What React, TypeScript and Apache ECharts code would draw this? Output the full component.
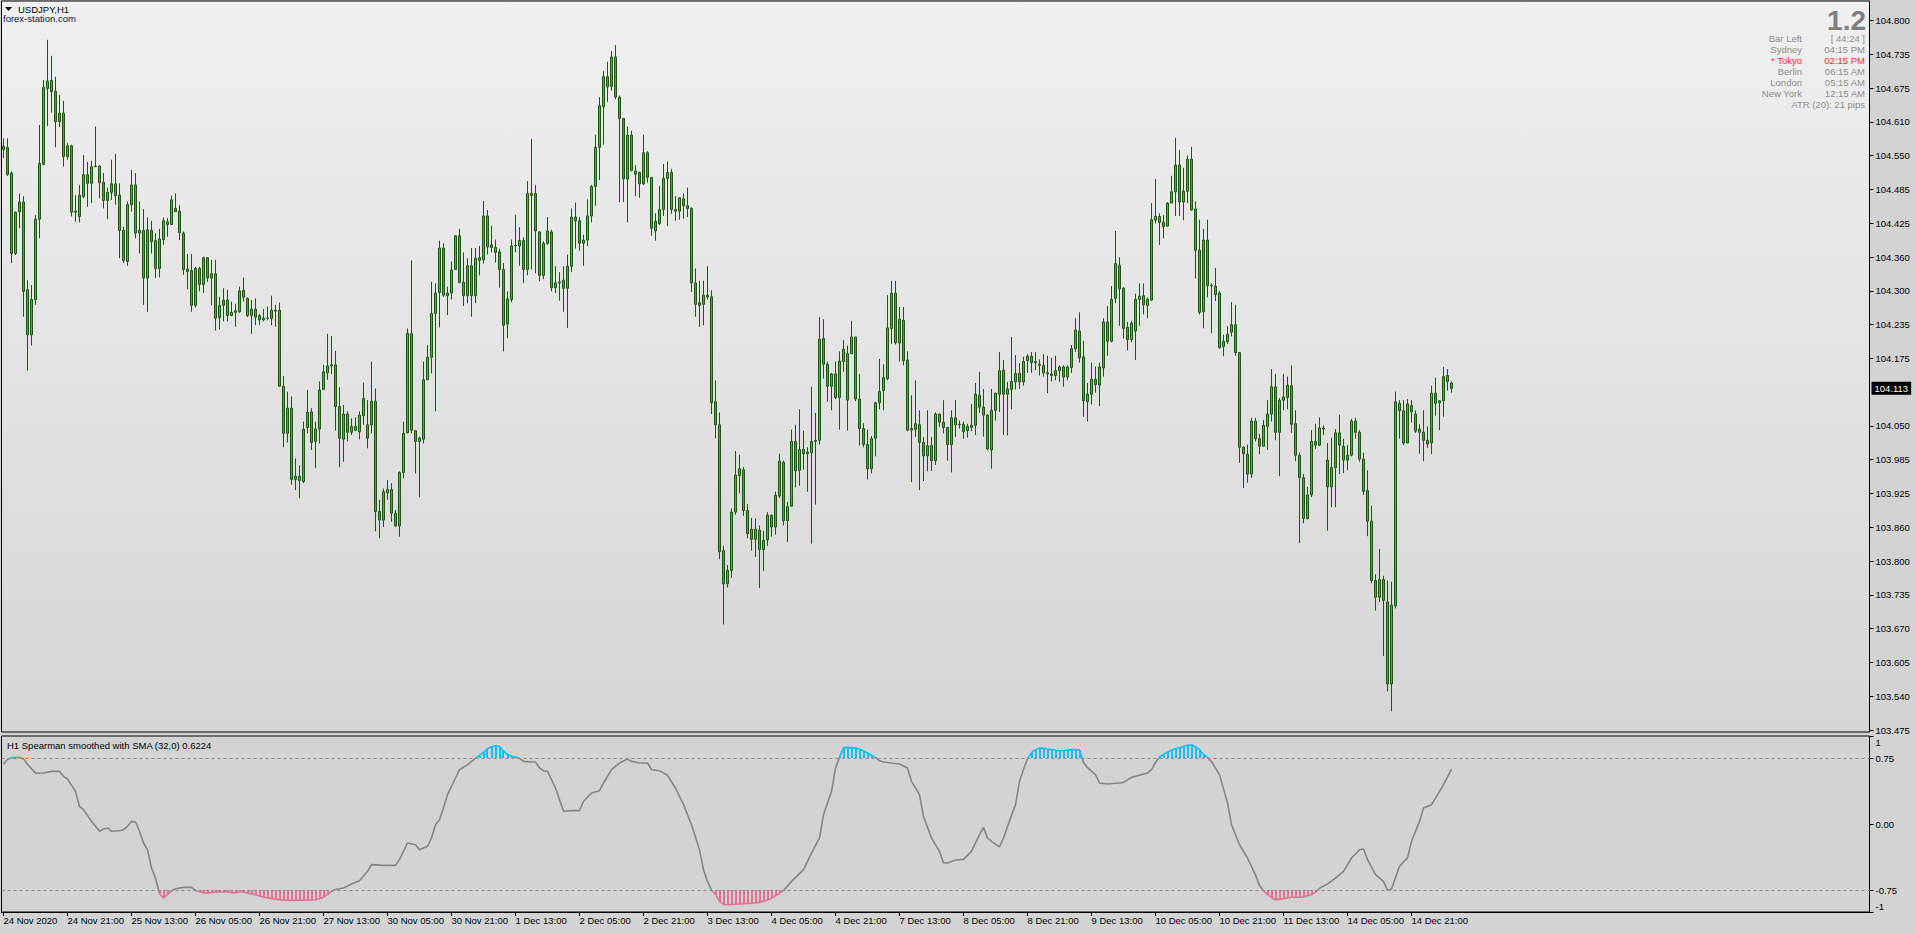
import React, { useEffect, useRef } from 'react';
import * as echarts from 'echarts';

// ---------- data (USDJPY H1) ----------
const opens = [
104.559,104.563,104.515,104.365,104.443,104.461,104.297,104.213,104.279,104.429,104.531,104.673,104.688,104.668,104.611,104.627,104.546,104.566,104.442,104.434,
104.471,104.512,104.496,104.527,104.528,104.498,104.464,104.479,104.495,104.474,104.408,104.350,104.456,104.493,104.403,104.408,104.319,104.408,104.389,104.337,
104.391,104.424,104.419,104.449,104.444,104.403,104.336,104.333,104.268,104.337,104.307,104.357,104.319,104.327,104.245,104.268,104.278,104.249,104.255,104.256,
104.296,104.281,104.249,104.261,104.249,104.241,104.244,104.243,104.259,104.259,104.117,104.029,104.076,103.943,103.949,103.939,104.040,104.069,104.014,104.037,
104.111,104.142,104.155,104.157,104.079,104.018,104.065,104.031,104.042,104.032,104.062,104.045,104.045,104.089,103.883,103.867,103.918,103.924,103.880,103.856,
103.956,104.030,104.215,104.034,104.014,104.018,104.129,104.171,104.253,104.292,104.375,104.286,104.291,104.335,104.398,104.311,104.286,104.342,104.286,104.352,
104.353,104.435,104.381,104.376,104.368,104.335,104.233,104.279,104.379,104.379,104.389,104.335,104.477,104.477,104.405,104.324,104.384,104.405,104.301,104.310,
104.315,104.300,104.341,104.433,104.426,104.384,104.390,104.435,104.490,104.563,104.639,104.695,104.677,104.732,104.657,104.617,104.504,104.586,104.519,104.516,
104.495,104.553,104.507,104.407,104.421,104.447,104.505,104.516,104.447,104.444,104.467,104.454,104.449,104.310,104.273,104.270,104.287,104.284,104.088,104.045,
103.810,103.748,103.773,103.882,103.950,103.961,103.885,103.850,103.831,103.848,103.812,103.830,103.876,103.854,103.912,103.975,103.866,103.893,104.014,103.960,
103.999,103.991,103.993,104.014,104.016,104.206,104.158,104.117,104.140,104.096,104.163,104.178,104.178,104.209,104.093,104.038,104.008,103.963,104.020,104.086,
104.109,104.131,104.225,104.291,104.198,104.240,104.166,104.035,104.036,104.045,104.012,103.987,104.006,103.978,104.065,104.050,104.040,104.008,104.058,104.045,
104.046,104.034,104.040,104.044,104.100,104.078,104.063,103.998,104.072,104.102,104.147,104.102,104.111,104.125,104.141,104.125,104.165,104.173,104.161,104.158,
104.156,104.142,104.140,104.137,104.146,104.153,104.134,104.152,104.187,104.220,104.172,104.088,104.102,104.130,104.119,104.151,104.237,104.201,104.281,104.343,
104.300,104.227,104.204,104.220,104.279,104.286,104.268,104.278,104.427,104.434,104.423,104.416,104.459,104.480,104.530,104.461,104.481,104.541,104.448,104.371,
104.256,104.390,104.305,104.304,104.291,104.191,104.200,104.218,104.232,104.180,104.003,103.990,103.953,104.052,104.019,104.005,104.042,104.065,104.116,104.031,
104.091,104.096,104.118,104.047,103.988,103.946,103.870,103.914,104.014,104.007,104.039,103.979,103.929,103.965,104.030,104.005,103.979,103.988,104.052,104.031,
103.981,103.922,103.865,103.754,103.723,103.756,103.714,103.561,103.707,104.085,104.071,104.011,104.081,104.065,104.037,104.031,104.016,104.011,104.104,104.086,
104.090,104.137,104.123,
];
const highs = [
104.580,104.580,104.518,104.443,104.477,104.472,104.315,104.306,104.437,104.605,104.689,104.764,104.734,104.695,104.661,104.650,104.571,104.568,104.474,104.493,
104.549,104.536,104.538,104.602,104.530,104.515,104.488,104.540,104.551,104.496,104.415,104.462,104.521,104.515,104.462,104.448,104.432,104.426,104.403,104.411,
104.432,104.431,104.473,104.477,104.455,104.406,104.364,104.364,104.340,104.340,104.359,104.358,104.353,104.353,104.284,104.300,104.297,104.275,104.271,104.303,
104.320,104.283,104.278,104.281,104.252,104.261,104.266,104.286,104.269,104.273,104.136,104.107,104.098,103.982,103.969,104.051,104.110,104.076,104.051,104.126,
104.157,104.215,104.211,104.183,104.115,104.082,104.070,104.057,104.059,104.070,104.124,104.091,104.163,104.113,103.905,103.926,103.942,103.936,103.886,103.958,
104.051,104.225,104.352,104.035,104.023,104.163,104.194,104.312,104.309,104.389,104.384,104.303,104.350,104.399,104.411,104.367,104.356,104.375,104.375,104.379,
104.463,104.446,104.417,104.391,104.374,104.347,104.294,104.391,104.437,104.414,104.395,104.500,104.579,104.493,104.407,104.388,104.433,104.409,104.341,104.330,
104.341,104.363,104.449,104.460,104.433,104.400,104.466,104.493,104.587,104.657,104.706,104.723,104.743,104.754,104.660,104.618,104.602,104.594,104.530,104.518,
104.587,104.556,104.507,104.440,104.491,104.532,104.537,104.523,104.472,104.469,104.477,104.488,104.451,104.337,104.314,104.314,104.341,104.296,104.128,104.068,
103.819,103.783,103.889,103.996,103.989,103.966,103.897,103.871,103.870,103.857,103.847,103.882,103.877,103.920,103.991,103.978,103.901,104.036,104.045,104.074,
104.034,104.003,104.116,104.067,104.246,104.242,104.163,104.142,104.163,104.182,104.203,104.193,104.239,104.209,104.140,104.048,104.036,104.024,104.088,104.168,
104.158,104.287,104.314,104.314,104.265,104.265,104.182,104.100,104.128,104.072,104.022,104.072,104.022,104.068,104.066,104.091,104.040,104.072,104.091,104.053,
104.051,104.047,104.084,104.123,104.144,104.112,104.065,104.112,104.105,104.181,104.166,104.125,104.209,104.175,104.160,104.172,104.177,104.181,104.181,104.167,
104.177,104.174,104.170,104.174,104.156,104.156,104.156,104.194,104.244,104.255,104.202,104.123,104.161,104.154,104.161,104.244,104.267,104.304,104.407,104.358,
104.302,104.237,104.239,104.290,104.309,104.309,104.283,104.459,104.504,104.440,104.437,104.461,104.510,104.581,104.558,104.525,104.548,104.564,104.462,104.428,
104.411,104.428,104.309,104.338,104.295,104.213,104.229,104.274,104.269,104.181,104.005,104.008,104.058,104.058,104.028,104.054,104.091,104.149,104.140,104.095,
104.140,104.135,104.156,104.072,103.993,103.953,103.929,104.035,104.047,104.059,104.044,104.011,104.021,104.037,104.064,104.019,104.007,104.056,104.058,104.035,
103.993,103.960,103.894,103.766,103.813,103.763,103.754,103.752,104.107,104.091,104.091,104.093,104.091,104.072,104.046,104.072,104.042,104.118,104.133,104.091,
104.153,104.149,104.126,
];
const lows = [
104.543,104.510,104.347,104.362,104.412,104.247,104.146,104.193,104.269,104.393,104.530,104.603,104.628,104.563,104.601,104.527,104.540,104.434,104.424,104.423,
104.468,104.452,104.459,104.526,104.468,104.449,104.429,104.465,104.456,104.356,104.347,104.342,104.443,104.393,104.365,104.269,104.256,104.365,104.319,104.320,
104.381,104.396,104.419,104.443,104.390,104.325,104.298,104.256,104.264,104.294,104.291,104.312,104.268,104.221,104.223,104.238,104.238,104.248,104.228,104.254,
104.275,104.246,104.215,104.231,104.231,104.238,104.240,104.231,104.228,104.116,104.003,104.012,103.933,103.923,103.908,103.936,104.029,103.998,103.964,104.010,
104.110,104.129,104.140,104.034,103.966,103.976,104.014,104.026,104.033,104.018,104.045,104.001,104.029,103.846,103.833,103.854,103.905,103.864,103.855,103.836,
103.945,104.029,104.029,103.954,103.910,104.010,104.129,104.141,104.070,104.227,104.284,104.250,104.279,104.334,104.309,104.267,104.272,104.247,104.272,104.324,
104.346,104.363,104.367,104.348,104.301,104.182,104.207,104.274,104.367,104.342,104.310,104.324,104.335,104.328,104.313,104.317,104.381,104.294,104.291,104.277,
104.256,104.226,104.330,104.374,104.370,104.342,104.379,104.423,104.454,104.502,104.568,104.648,104.669,104.653,104.461,104.461,104.423,104.518,104.472,104.469,
104.493,104.497,104.398,104.389,104.418,104.435,104.416,104.439,104.426,104.428,104.430,104.433,104.293,104.247,104.228,104.231,104.279,104.065,104.020,103.794,
103.672,103.741,103.759,103.877,103.917,103.875,103.833,103.810,103.798,103.740,103.772,103.819,103.836,103.840,103.908,103.857,103.826,103.892,103.928,103.931,
103.961,103.920,103.823,103.896,104.008,104.131,104.088,104.072,104.093,104.036,104.144,104.034,104.177,104.089,104.006,104.003,103.943,103.954,103.986,104.074,
104.072,104.128,104.196,104.195,104.163,104.156,104.033,103.938,104.022,103.923,103.940,103.958,103.959,103.970,104.041,104.029,103.978,103.956,104.022,104.038,
104.019,104.021,104.033,104.026,104.067,104.023,103.997,103.963,104.053,104.069,104.026,104.025,104.074,104.111,104.112,104.118,104.142,104.142,104.147,104.137,
104.135,104.104,104.126,104.128,104.125,104.116,104.128,104.142,104.181,104.161,104.060,104.051,104.083,104.105,104.080,104.135,104.174,104.199,104.272,104.230,
104.206,104.184,104.199,104.166,104.230,104.251,104.244,104.276,104.421,104.381,104.393,104.415,104.459,104.435,104.435,104.427,104.459,104.445,104.318,104.251,
104.225,104.283,104.216,104.276,104.187,104.173,104.196,104.210,104.174,103.974,103.927,103.937,103.946,104.014,103.990,104.005,103.998,104.051,104.016,103.949,
104.072,104.074,104.030,103.977,103.824,103.861,103.868,103.910,104.000,104.005,104.026,103.847,103.891,103.891,103.953,103.955,103.960,103.986,104.019,103.976,
103.914,103.837,103.749,103.698,103.714,103.613,103.547,103.510,103.702,104.019,104.007,104.011,104.049,104.030,103.991,103.977,104.002,103.990,104.062,104.035,
104.060,104.109,104.105,
];
const closes = [
104.565,104.512,104.365,104.442,104.461,104.294,104.213,104.279,104.429,104.533,104.675,104.687,104.667,104.611,104.627,104.546,104.566,104.442,104.444,104.474,
104.512,104.496,104.527,104.528,104.497,104.464,104.479,104.495,104.473,104.408,104.352,104.456,104.493,104.403,104.408,104.319,104.409,104.387,104.337,104.392,
104.426,104.419,104.465,104.443,104.404,104.335,104.331,104.268,104.337,104.307,104.357,104.319,104.327,104.244,104.268,104.278,104.249,104.255,104.258,104.295,
104.283,104.249,104.261,104.246,104.241,104.244,104.244,104.259,104.257,104.117,104.029,104.076,103.943,103.949,103.941,104.037,104.068,104.012,104.037,104.110,
104.144,104.155,104.157,104.079,104.020,104.065,104.031,104.042,104.035,104.063,104.094,104.020,104.089,103.883,103.867,103.920,103.924,103.880,103.856,103.956,
104.029,104.216,104.035,104.014,104.020,104.129,104.171,104.253,104.291,104.375,104.287,104.291,104.334,104.398,104.311,104.286,104.342,104.286,104.356,104.357,
104.435,104.377,104.376,104.367,104.335,104.231,104.280,104.379,104.380,104.389,104.335,104.477,104.473,104.407,104.324,104.384,104.407,104.301,104.310,104.312,
104.300,104.341,104.433,104.426,104.384,104.390,104.435,104.490,104.563,104.641,104.695,104.676,104.732,104.657,104.617,104.504,104.586,104.520,104.513,104.495,
104.553,104.507,104.412,104.425,104.447,104.505,104.516,104.447,104.444,104.469,104.454,104.449,104.310,104.270,104.268,104.287,104.284,104.086,104.045,103.808,
103.748,103.773,103.882,103.951,103.963,103.885,103.842,103.831,103.850,103.812,103.829,103.876,103.854,103.913,103.977,103.866,103.892,104.014,103.959,103.999,
103.991,103.994,104.014,104.016,104.205,104.158,104.117,104.140,104.096,104.164,104.186,104.091,104.209,104.093,104.038,104.008,103.963,104.019,104.086,104.107,
104.133,104.226,104.291,104.198,104.242,104.165,104.035,104.038,104.047,104.012,103.987,104.006,103.978,104.065,104.050,104.040,104.008,104.058,104.045,104.046,
104.032,104.042,104.044,104.102,104.078,104.063,104.000,104.072,104.104,104.146,104.102,104.112,104.126,104.141,104.125,104.163,104.173,104.161,104.163,104.156,
104.142,104.140,104.137,104.146,104.153,104.134,104.153,104.187,104.222,104.170,104.090,104.102,104.130,104.120,104.153,104.237,104.201,104.279,104.346,104.299,
104.225,104.204,104.235,104.279,104.285,104.269,104.279,104.428,104.434,104.423,104.415,104.459,104.480,104.530,104.461,104.481,104.541,104.446,104.371,104.255,
104.390,104.305,104.306,104.288,104.189,104.201,104.214,104.232,104.180,104.003,103.991,103.953,104.052,104.019,104.005,104.044,104.065,104.116,104.031,104.091,
104.097,104.119,104.046,103.988,103.946,103.870,103.914,104.014,104.007,104.039,104.037,103.929,103.965,104.030,104.007,103.979,103.988,104.052,104.031,103.981,
103.921,103.865,103.754,103.723,103.756,103.717,103.561,103.708,104.088,104.071,104.011,104.084,104.069,104.033,104.031,104.016,104.009,104.104,104.085,104.090,
104.135,104.126,104.113,
];

// Spearman indicator (bar index, value)
const spearmanIdx = [
0,1,2,3,4,5,6,8,10,12,14,15,16,18,19,20,22,24,25,26,27,29,30,31,32,33,34,35,36,37,38,39,40,41,42,43,45,47,
48,49,50,51,52,53,54,55,56,57,58,59,60,61,62,63,64,65,66,67,68,69,70,71,72,73,74,75,76,77,78,79,80,81,82,83,
85,87,89,91,92,95,98,99,100,101,103,104,106,107,108,109,110,111,113,114,116,117,118,
119,120,121,122,123,124,125,126,127,128,129,130,132,133,134,135,136,138,139,140,142,144,145,147,149,150,152,154,156,157,159,161,162,164,166,168,170,172,174,175,176,
177,178,179,180,181,182,183,184,185,186,187,188,189,190,191,192,193,194,195,197,200,202,204,205,207,208,
209,210,211,212,213,214,215,216,217,218,219,220,222,224,226,227,229,230,232,234,235,236,238,240,242,244,245,246,247,249,250,251,253,254,255,
256,257,258,259,260,261,262,263,264,265,266,267,268,269,270,271,273,274,276,279,280,282,283,286,287,
288,289,290,291,292,293,294,295,296,297,298,299,300,301,302,304,306,307,309,311,313,314,
315,316,317,318,319,320,321,322,323,324,325,326,327,328,329,331,333,335,337,339,340,341,343,345,346,347,349,351,352,354,355,357,358,360,362,
];
const spearmanVal = [
0.68,0.735,0.752,0.758,0.755,0.74,0.68,0.576,0.58,0.598,0.598,0.542,0.511,0.371,0.201,0.163,0.03,-0.083,-0.057,-0.045,-0.083,-0.076,-0.064,-0.027,0.03,0.023,-0.083,-0.216,-0.292,-0.5,-0.614,-0.79,-0.84,-0.8,-0.76,-0.735,-0.72,-0.72,
-0.755,-0.77,-0.78,-0.785,-0.78,-0.775,-0.773,-0.773,-0.773,-0.78,-0.783,-0.768,-0.775,-0.784,-0.795,-0.803,-0.818,-0.83,-0.84,-0.848,-0.855,-0.86,-0.865,-0.867,-0.868,-0.868,-0.867,-0.866,-0.865,-0.863,-0.86,-0.85,-0.833,-0.8,-0.765,-0.745,
-0.727,-0.682,-0.644,-0.538,-0.462,-0.47,-0.47,-0.405,-0.311,-0.216,-0.235,-0.292,-0.254,-0.159,-0.008,0.049,0.182,0.333,0.523,0.617,0.674,0.712,0.745,
0.78,0.815,0.855,0.877,0.89,0.88,0.83,0.79,0.77,0.76,0.745,0.712,0.705,0.705,0.636,0.606,0.598,0.409,0.277,0.144,0.152,0.152,0.258,0.352,0.379,0.466,0.617,0.693,0.739,0.712,0.693,0.693,0.617,0.606,0.553,0.409,0.22,-0.008,-0.292,-0.519,-0.652,
-0.752,-0.8,-0.88,-0.915,-0.917,-0.915,-0.912,-0.909,-0.906,-0.903,-0.9,-0.897,-0.888,-0.879,-0.863,-0.843,-0.815,-0.785,-0.757,-0.652,-0.519,-0.33,-0.159,0.106,0.371,0.636,
0.76,0.865,0.871,0.868,0.862,0.852,0.83,0.807,0.78,0.755,0.72,0.705,0.693,0.682,0.636,0.485,0.333,0.087,-0.159,-0.311,-0.443,-0.443,-0.409,-0.402,-0.311,-0.121,-0.038,-0.159,-0.197,-0.261,-0.159,-0.027,0.22,0.485,0.62,
0.74,0.81,0.845,0.862,0.86,0.852,0.845,0.838,0.833,0.836,0.84,0.845,0.845,0.84,0.7,0.64,0.56,0.466,0.455,0.466,0.473,0.53,0.542,0.58,0.617,
0.7,0.76,0.79,0.815,0.84,0.855,0.866,0.88,0.895,0.9,0.875,0.845,0.79,0.755,0.71,0.561,0.239,-0.008,-0.235,-0.386,-0.58,-0.7,
-0.76,-0.8,-0.835,-0.86,-0.857,-0.85,-0.84,-0.833,-0.833,-0.833,-0.828,-0.815,-0.805,-0.775,-0.73,-0.682,-0.614,-0.538,-0.386,-0.292,-0.284,-0.405,-0.576,-0.652,-0.752,-0.738,-0.481,-0.386,-0.197,0.03,0.182,0.22,0.295,0.447,0.6224,
];

const timeLabels = [
  '24 Nov 2020', '24 Nov 21:00', '25 Nov 13:00', '26 Nov 05:00', '26 Nov 21:00', '27 Nov 13:00',
  '30 Nov 05:00', '30 Nov 21:00', '1 Dec 13:00', '2 Dec 05:00', '2 Dec 21:00', '3 Dec 13:00',
  '4 Dec 05:00', '4 Dec 21:00', '7 Dec 13:00', '8 Dec 05:00', '8 Dec 21:00', '9 Dec 13:00',
  '10 Dec 05:00', '10 Dec 21:00', '11 Dec 13:00', '14 Dec 05:00', '14 Dec 21:00',
];
const BARS_PER_LABEL = 16;
const TOTAL_SLOTS = 467; // bars + right-side shift space

const priceTickLabels = [
  '103.475', '103.540', '103.605', '103.670', '103.735', '103.800', '103.860', '103.925', '103.985', '104.050',
  '104.175', '104.235', '104.300', '104.360', '104.425', '104.485', '104.550', '104.610', '104.675', '104.735', '104.800',
];
const PRICE_LOW = 103.475;
const PRICE_HIGH = 104.8;
const PRICE_STEPS = 21;

const spearmanTickValues = [1, 0.75, 0, -0.75, -1];
const spearmanTickLabels = ['1', '0.75', '0.00', '-0.75', '-1'];
const LEVEL = 0.75;

const infoNames = ['Bar Left', 'Sydney', '* Tokyo', 'Berlin', 'London', 'New York'];
const infoTimes = ['[ 44:24 ]', '04:15 PM', '02:15 PM', '06:15 AM', '05:15 AM', '12:15 AM'];
const infoHighlight = 2;

// ---------- styling ----------
const FONT = "'Liberation Sans', Arial, sans-serif";
const FS = 9.5;
const BULL_FILL = '#36bd36';
const BEAR_FILL = '#d0603c';
const CANDLE_EDGE = '#1f5512';
const BLUE = '#12bdf2';
const PINK = '#e2708f';
const GREY_LINE = '#858585';
const INFO_GREY = '#8d8d8d';

function buildOption() {
  const step = (PRICE_HIGH - PRICE_LOW) / PRICE_STEPS;
  const priceTickValues = priceTickLabels.map((l) => {
    const k = Math.round((parseFloat(l) - PRICE_LOW) / step);
    return PRICE_LOW + k * step;
  });
  const pxPerUnit = (730 - 20.5) / (PRICE_HIGH - PRICE_LOW);
  const yMax = PRICE_HIGH + (20.5 - 1) / pxPerUnit;
  const yMin = PRICE_LOW - (732 - 730) / pxPerUnit;

  const categories: string[] = [];
  for (let i = 0; i < TOTAL_SLOTS; i++) {
    const li = i / BARS_PER_LABEL;
    categories.push(i % BARS_PER_LABEL === 0 && li < timeLabels.length ? timeLabels[li] : '');
  }
  const labelInterval = (index: number) => index % BARS_PER_LABEL === 0 && index / BARS_PER_LABEL < timeLabels.length;

  const candles = opens.map((o, i) => [o, closes[i], lows[i], highs[i]]);
  const spearman = spearmanIdx.map((b, i) => [b, spearmanVal[i]]);
  const lastClose = closes[closes.length - 1];
  const lastCloseText = lastClose.toFixed(3);
  const lastSpearman = spearmanVal[spearmanVal.length - 1];

  const infoGraphics: any[] = [];
  infoNames.forEach((name, i) => {
    const y = 38.5 + i * 11;
    const col = i === infoHighlight ? '#ff2a2a' : INFO_GREY;
    infoGraphics.push({ type: 'text', x: 1802, y, z: 100, style: { text: name, fill: col, fontSize: FS, fontFamily: FONT, align: 'right', verticalAlign: 'middle' } });
    infoGraphics.push({ type: 'text', x: 1865, y, z: 100, style: { text: infoTimes[i], fill: col, fontSize: FS, fontFamily: FONT, align: 'right', verticalAlign: 'middle' } });
  });

  return {
    animation: false,
    backgroundColor: '#d3d3d3',
    textStyle: { fontFamily: FONT },
    grid: [
      {
        left: 1.5, top: 1, width: 1868, height: 731, show: true,
        backgroundColor: new echarts.graphic.LinearGradient(0, 0, 0, 1, [
          { offset: 0, color: '#f0f0f0' },
          { offset: 1, color: '#d6d6d6' },
        ]),
        borderColor: '#000', borderWidth: 1,
      },
      { left: 1.5, top: 736, width: 1868, height: 176, show: true, backgroundColor: '#d3d3d3', borderColor: '#000', borderWidth: 1 },
    ],
    xAxis: [
      {
        type: 'category', gridIndex: 0, data: categories, boundaryGap: true,
        axisLine: { show: false, onZero: false }, axisTick: { show: false }, axisLabel: { show: false }, splitLine: { show: false },
      },
      {
        type: 'category', gridIndex: 1, data: categories, boundaryGap: true, position: 'bottom',
        axisLine: { show: true, onZero: false, lineStyle: { color: '#000', width: 1 } },
        axisTick: { show: true, alignWithLabel: true, interval: labelInterval, length: 4, lineStyle: { color: '#000' } },
        axisLabel: { show: true, interval: labelInterval, align: 'left', margin: 3, color: '#000', fontSize: FS, fontFamily: FONT },
        splitLine: { show: false },
      },
    ],
    yAxis: [
      {
        type: 'value', gridIndex: 0, position: 'right', min: yMin, max: yMax,
        axisLine: { show: false }, splitLine: { show: false },
        axisTick: { show: true, customValues: priceTickValues, length: 4, lineStyle: { color: '#000' } },
        axisLabel: {
          show: true, customValues: priceTickValues, margin: 6, color: '#000', fontSize: FS, fontFamily: FONT,
          formatter: (v: number) => {
            let best = 0; let bd = Infinity;
            priceTickValues.forEach((pv, k) => { const d = Math.abs(pv - v); if (d < bd) { bd = d; best = k; } });
            return priceTickLabels[best];
          },
        },
      },
      {
        type: 'value', gridIndex: 1, position: 'right', min: -1, max: 1,
        axisLine: { show: false }, splitLine: { show: false },
        axisTick: { show: true, customValues: spearmanTickValues, length: 4, lineStyle: { color: '#000' } },
        axisLabel: {
          show: true, customValues: spearmanTickValues, margin: 6, color: '#000', fontSize: FS, fontFamily: FONT,
          formatter: (v: number) => {
            const k = spearmanTickValues.findIndex((t) => Math.abs(t - v) < 1e-6);
            const s = k >= 0 ? spearmanTickLabels[k] : '';
            if (v >= 1) return '{t|' + s + '}';
            if (v <= -1) return '{b|' + s + '}';
            return s;
          },
          rich: {
            t: { padding: [12, 0, 0, 0], fontSize: FS, fontFamily: FONT, color: '#000' },
            b: { padding: [0, 0, 12, 0], fontSize: FS, fontFamily: FONT, color: '#000' },
          },
        },
      },
    ],
    visualMap: [
      {
        type: 'piecewise', show: false, seriesIndex: 1, dimension: 1,
        pieces: [
          { gt: LEVEL, color: BLUE },
          { lt: -LEVEL, color: PINK },
          { gte: -LEVEL, lte: LEVEL, color: GREY_LINE },
        ],
      },
    ],
    series: [
      {
        type: 'candlestick', xAxisIndex: 0, yAxisIndex: 0, data: candles, barWidth: 3,
        itemStyle: { color: BULL_FILL, color0: BEAR_FILL, borderColor: CANDLE_EDGE, borderColor0: CANDLE_EDGE, borderWidth: 1 },
        markLine: {
          silent: true, symbol: ['none', 'none'], precision: 3,
          lineStyle: { color: 'rgba(0,0,0,0)', width: 1, type: 'solid' },
          label: {
            show: true, position: 'end', distance: 2,
            formatter: () => lastCloseText,
            backgroundColor: '#000', color: '#fff', padding: [2, 3, 1, 3], fontSize: FS, fontFamily: FONT,
          },
          data: [{ yAxis: lastClose }],
        },
      },
      {
        type: 'line', xAxisIndex: 1, yAxisIndex: 1, data: spearman, showSymbol: false, symbol: 'none',
        lineStyle: { width: 1.6 },
        z: 4,
        markLine: {
          silent: true, symbol: ['none', 'none'],
          lineStyle: { color: '#8a8a8a', type: [3, 3], width: 1 },
          label: { show: false },
          data: [{ yAxis: LEVEL }, { yAxis: -LEVEL }],
        },
      },
      {
        type: 'custom', xAxisIndex: 1, yAxisIndex: 1, data: spearman, z: 3,
        encode: { x: 0, y: 1 },
        renderItem: (params: any, api: any) => {
          const x = api.value(0);
          const v = api.value(1);
          if (Math.abs(v) <= LEVEL) return null;
          const base = v > 0 ? LEVEL : -LEVEL;
          const p1 = api.coord([x, base]);
          const p2 = api.coord([x, v]);
          const px = Math.round(p1[0]);
          return {
            type: 'line',
            shape: { x1: px, y1: p1[1], x2: px, y2: p2[1] },
            style: { stroke: v > 0 ? BLUE : PINK, lineWidth: 2 },
          };
        },
      },
    ],
    graphic: [
      { type: 'polygon', z: 100, shape: { points: [[5, 7], [12, 7], [8.5, 11]] }, style: { fill: '#000' } },
      { type: 'text', x: 18, y: 9.5, z: 100, style: { text: 'USDJPY,H1', fill: '#000', fontSize: FS, fontFamily: FONT, align: 'left', verticalAlign: 'middle' } },
      { type: 'text', x: 3, y: 18.5, z: 100, style: { text: 'forex-station.com', fill: '#101030', fontSize: FS, fontFamily: FONT, align: 'left', verticalAlign: 'middle' } },
      { type: 'text', x: 1866, y: 20, z: 100, style: { text: '1.2', fill: '#7f7f7f', fontSize: 28, fontWeight: 'bold', fontFamily: FONT, align: 'right', verticalAlign: 'middle' } },
      ...infoGraphics,
      { type: 'text', x: 1865, y: 104.5, z: 100, style: { text: 'ATR (20): 21 pips', fill: INFO_GREY, fontSize: FS, fontFamily: FONT, align: 'right', verticalAlign: 'middle' } },
      { type: 'text', x: 7, y: 745, z: 100, style: { text: 'H1 Spearman smoothed with SMA (32,0) ' + lastSpearman.toFixed(4), fill: '#000', fontSize: FS, fontFamily: FONT, align: 'left', verticalAlign: 'middle' } },
    ],
  };
}

export default function App() {
  const ref = useRef<HTMLDivElement>(null);
  useEffect(() => {
    if (!ref.current) return;
    const chart = echarts.init(ref.current, null, { renderer: 'svg' });
    chart.setOption(buildOption() as any);
    return () => chart.dispose();
  }, []);
  return <div ref={ref} style={{ position: 'fixed', left: 0, top: 0, width: 1916, height: 933 }} />;
}
